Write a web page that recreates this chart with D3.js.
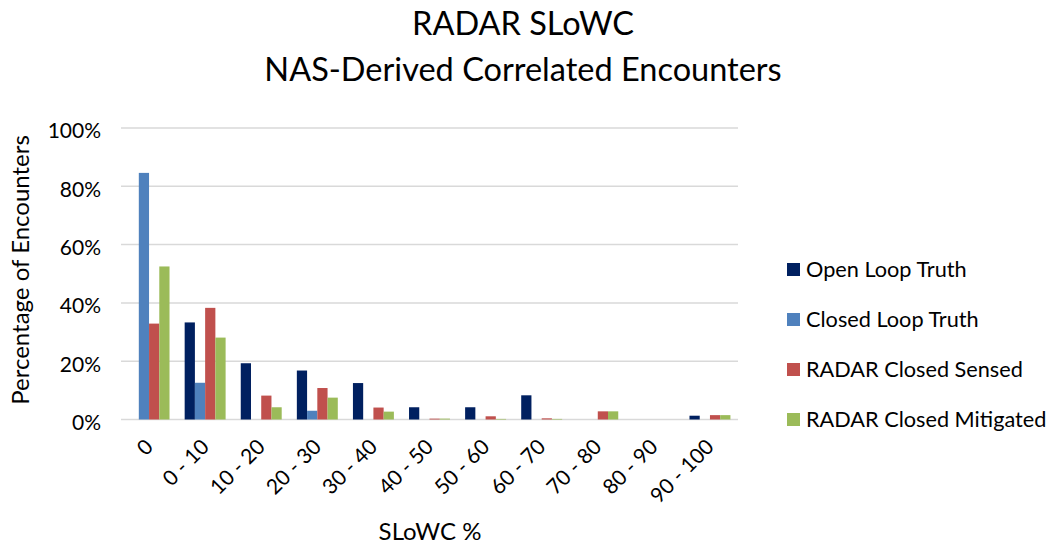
<!DOCTYPE html>
<html><head><meta charset="utf-8">
<script src="https://cdn.jsdelivr.net/npm/d3@7"></script>
<style>body{margin:0;background:#fff}svg{display:block}text{font-family:Lato,"Open Sans",sans-serif;fill:#000}</style>
</head><body><svg id="c" width="1047" height="548"></svg>
<script>
const categories = ["0","0 - 10","10 - 20","20 - 30","30 - 40","40 - 50","50 - 60","60 - 70","70 - 80","80 - 90","90 - 100"];
const seriesNames = ["Open Loop Truth","Closed Loop Truth","RADAR Closed Sensed","RADAR Closed Mitigated"];
const seriesColors = ["#002060","#4f81bd","#c0504d","#9bbb59"];
const openLoopTruth      = [0, 33.3, 19.3, 16.8, 12.5, 4.2, 4.2, 8.3, 0, 0, 1.3];
const closedLoopTruth    = [84.6, 12.6, 0, 3.0, 0, 0, 0, 0, 0, 0, 0];
const radarClosedSensed  = [32.9, 38.3, 8.2, 10.8, 4.1, 0.3, 1.1, 0.4, 2.8, 0, 1.5];
const radarClosedMitigated=[52.5, 28.1, 4.2, 7.5, 2.7, 0.3, 0.2, 0.2, 2.8, 0, 1.5];
const yTicks = [0,20,40,60,80,100];
const series = [openLoopTruth, closedLoopTruth, radarClosedSensed, radarClosedMitigated];

(function(){
const svg = d3.select("#c");
const pLeft = 121, pRight = 738, pTop = 128, pBottom = 419.5;
const x = d3.scaleBand().domain(categories).range([pLeft, pRight]).paddingInner(0.27).paddingOuter(0.135);
const xs = d3.scaleBand().domain(d3.range(4)).range([0, x.bandwidth()]);
const y = d3.scaleLinear().domain([0,100]).range([pBottom, pTop]);

svg.append("g").selectAll("line").data(yTicks).join("line")
  .attr("x1", pLeft).attr("x2", pRight).attr("y1", d=>y(d)).attr("y2", d=>y(d))
  .attr("stroke", "#d9d9d9").attr("stroke-width", 1.5);

svg.append("g").selectAll("text").data(yTicks).join("text")
  .attr("x", 101).attr("y", d=>y(d)+3).attr("dy","0.35em").attr("text-anchor","end")
  .attr("font-size", 21).text(d=>d+"%");

const g = svg.append("g");
series.forEach((vals, si) => {
  g.append("g").selectAll("rect").data(vals).join("rect")
    .attr("x", (d,i)=>x(categories[i]) + xs(si))
    .attr("width", xs.bandwidth())
    .attr("y", d=>y(d))
    .attr("height", d=>y(0)-y(d))
    .attr("fill", seriesColors[si]);
});

svg.append("g").selectAll("text").data(categories).join("text")
  .attr("transform", d=>`translate(${x(d)+x.bandwidth()/2},${443}) rotate(-45)`)
  .attr("text-anchor","end").attr("dy","0.35em").attr("font-size", 21).text(d=>d);

svg.append("text").attr("x", 430).attr("y", 540).attr("text-anchor","middle").attr("font-size",24).text("SLoWC %");
svg.append("text").attr("transform","translate(29,270) rotate(-90)").attr("text-anchor","middle").attr("font-size",24).text("Percentage of Encounters");

svg.append("text").attr("x", 523).attr("y", 35).attr("text-anchor","middle").attr("font-size",32.5).text("RADAR SLoWC");
svg.append("text").attr("x", 523).attr("y", 81).attr("text-anchor","middle").attr("font-size",32.5).text("NAS-Derived Correlated Encounters");

const lg = svg.append("g").selectAll("g").data(seriesNames).join("g")
  .attr("transform", (d,i)=>`translate(787,${269.5 + i*50})`);
lg.append("rect").attr("x",0).attr("y",-6.5).attr("width",13).attr("height",13).attr("fill",(d,i)=>seriesColors[i]);
lg.append("text").attr("x",19).attr("dy","0.35em").attr("font-size",21.7).text(d=>d);
})();
</script></body></html>
